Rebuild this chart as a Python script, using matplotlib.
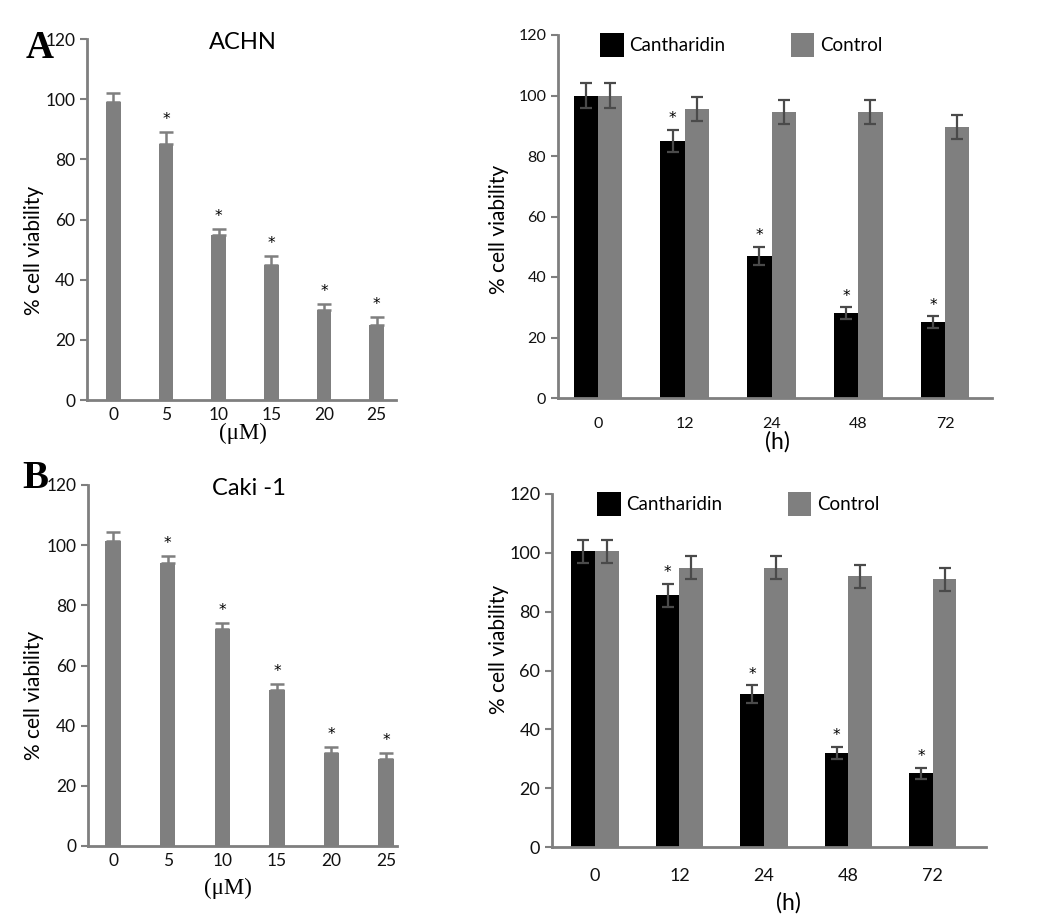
import numpy as np
import matplotlib
matplotlib.use("Agg")
import matplotlib.pyplot as plt
from matplotlib.patches import Patch

plt.rcParams['font.family'] = ['Lato', 'DejaVu Sans']

# dose response (uM), 48 h
conc = ['0', '5', '10', '15', '20', '25']
achn_dose = [99, 85, 55, 45, 30, 25]
achn_dose_err = [3, 4, 1.7, 3, 2, 2.5]
caki_dose = [101.5, 94, 72, 52, 31, 29]
caki_dose_err = [3, 2.5, 2, 2, 2, 2]
dose_sig = [False, True, True, True, True, True]

# time course (h)
hours = ['0', '12', '24', '48', '72']
achn_canth = [100, 85, 47, 28, 25]
achn_canth_err = [4, 3.7, 3, 2, 2]
achn_ctrl = [100, 95.5, 94.5, 94.5, 89.5]
achn_ctrl_err = [4, 4, 4, 4, 4]
caki_canth = [100.5, 85.5, 52, 32, 25]
caki_canth_err = [4, 4, 3, 2, 2]
caki_ctrl = [100.5, 95, 95, 92, 91]
caki_ctrl_err = [4, 4, 4, 4, 4]
time_sig = [False, True, True, True, True]

GRAY = '#7f7f7f'
W, H = 1048, 918


def px_axes(fig, x0, x1, ytop, ybot):
    return fig.add_axes([x0 / W, 1 - ybot / H, (x1 - x0) / W, (ybot - ytop) / H])


def style_axes(ax, tick_size, xpad):
    for s in ['top', 'right']:
        ax.spines[s].set_visible(False)
    for s in ['left', 'bottom']:
        ax.spines[s].set_color(GRAY)
        ax.spines[s].set_linewidth(2)
    ax.set_ylim(0, 120)
    ax.set_yticks(range(0, 121, 20))
    ax.tick_params(axis='y', colors=GRAY, labelcolor='#111111', length=5, width=1.5,
                   labelsize=tick_size)
    ax.tick_params(axis='x', length=0, labelcolor='#111111', labelsize=tick_size, pad=xpad)


def dose_panel(ax, vals, errs, title, title_xy, xlim, ylab_xy, xlab_xy, xpad):
    x = np.arange(len(conc))
    ax.bar(x, vals, width=0.28, color=GRAY)
    ax.errorbar(x, vals, yerr=[np.zeros(len(errs)), errs], fmt='none', ecolor=GRAY,
                elinewidth=1.8, capsize=5, capthick=1.8)
    for xi, v, e, s in zip(x, vals, errs, dose_sig):
        if s:
            ax.annotate('*', (xi, v + e), xytext=(0, 9), textcoords='offset points',
                        ha='center', va='center', fontsize=11, family='DejaVu Sans')
    ax.set_xlim(*xlim)
    ax.set_xticks(x)
    ax.set_xticklabels(conc)
    style_axes(ax, 12.5, xpad)
    ax.text(title_xy[0], title_xy[1], title, transform=ax.transAxes, ha='center',
            va='center', fontsize=17)
    ax.set_ylabel('% cell viability', fontsize=15)
    ax.yaxis.set_label_coords(*ylab_xy)
    ax.set_xlabel('(\u03bcM)', fontsize=16.5, family='Liberation Serif')
    ax.xaxis.set_label_coords(*xlab_xy)


def time_panel(ax, canth, canth_err, ctrl, ctrl_err, xlim, ylab_xy, xlab_xy,
               tick_size, xpad, leg_xy):
    x = np.arange(len(hours))
    w = 0.28
    ax.bar(x - w / 2, canth, width=w, color='black', label='Cantharidin')
    ax.bar(x + w / 2, ctrl, width=w, color=GRAY, label='Control')
    ax.errorbar(x - w / 2, canth, yerr=canth_err, fmt='none', ecolor='#4a4a4a',
                elinewidth=1.6, capsize=4, capthick=1.6)
    ax.errorbar(x + w / 2, ctrl, yerr=ctrl_err, fmt='none', ecolor='#4a4a4a',
                elinewidth=1.6, capsize=4, capthick=1.6)
    for xi, v, e, s in zip(x, canth, canth_err, time_sig):
        if s:
            ax.annotate('*', (xi - w / 2, v + e), xytext=(0, 8), textcoords='offset points',
                        ha='center', va='center', fontsize=11, family='DejaVu Sans')
    ax.set_xlim(*xlim)
    ax.set_xticks(x)
    ax.set_xticklabels(hours)
    style_axes(ax, tick_size, xpad)
    ax.set_ylabel('% cell viability', fontsize=15)
    ax.yaxis.set_label_coords(*ylab_xy)
    ax.set_xlabel('(h)', fontsize=16.5)
    ax.xaxis.set_label_coords(*xlab_xy)
    handles = [Patch(facecolor='black', edgecolor='none'),
               Patch(facecolor=GRAY, edgecolor='none')]
    ax.legend(handles, ['Cantharidin', 'Control'], ncol=2, frameon=False,
              loc='upper left', bbox_to_anchor=leg_xy, borderaxespad=0, borderpad=0,
              handlelength=1.25, handleheight=1.6, handletextpad=0.3,
              columnspacing=3.5, fontsize=13.5)


fig = plt.figure(figsize=(W / 100, H / 100), dpi=100)

ax1 = px_axes(fig, 87, 396, 39, 400)
dose_panel(ax1, achn_dose, achn_dose_err, 'ACHN', (0.505, 0.99), (-0.5, 5.37),
           (-0.14, 0.415), (0.505, -0.064), 5)

ax2 = px_axes(fig, 558, 992, 35, 398)
time_panel(ax2, achn_canth, achn_canth_err, achn_ctrl, achn_ctrl_err, (-0.46, 4.54),
           (-0.113, 0.463), (0.505, -0.091), 11.5, 14, (0.097, 1.005))

ax3 = px_axes(fig, 88, 397, 485, 846)
dose_panel(ax3, caki_dose, caki_dose_err, 'Caki -1', (0.52, 0.99), (-0.46, 5.2),
           (-0.142, 0.418), (0.453, -0.089), 5)

ax4 = px_axes(fig, 552, 986, 494, 847)
time_panel(ax4, caki_canth, caki_canth_err, caki_ctrl, caki_ctrl_err, (-0.51, 4.63),
           (-0.099, 0.561), (0.544, -0.127), 13, 15, (0.104, 1.006))

fig.text(26 / W, 1 - 58 / H, 'A', fontsize=28, fontweight='bold',
         family='Liberation Serif', ha='left', va='baseline')
fig.text(22 / W, 1 - 488 / H, 'B', fontsize=28, fontweight='bold',
         family='Liberation Serif', ha='left', va='baseline')

fig.savefig('out.png', dpi=100)
